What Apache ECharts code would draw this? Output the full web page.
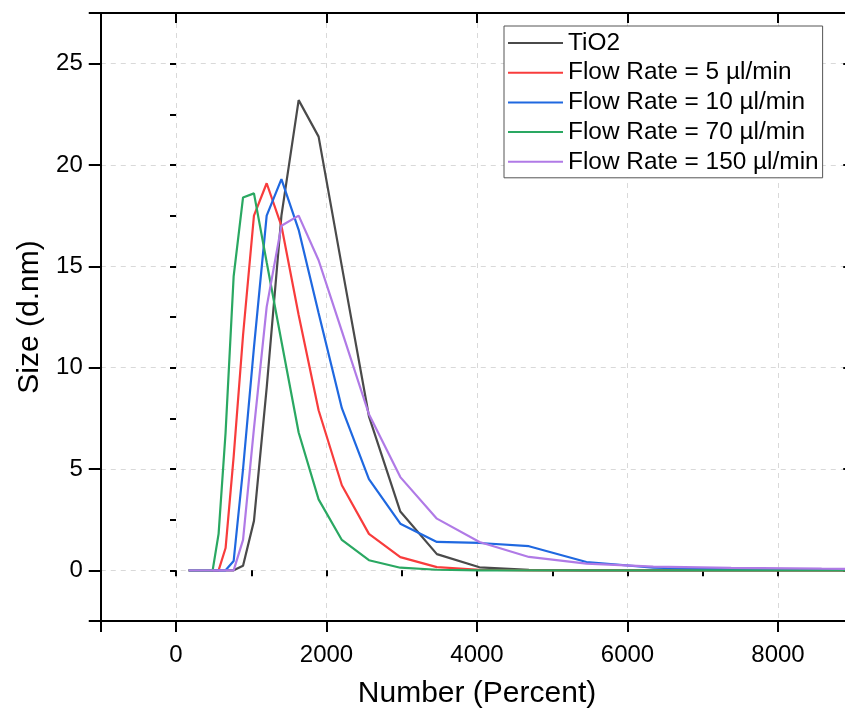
<!DOCTYPE html>
<html>
<head>
<meta charset="utf-8">
<script src="https://cdn.jsdelivr.net/npm/echarts@6/dist/echarts.min.js"></script>
<style>
html,body{margin:0;padding:0;background:#fff;}
#chart{width:845px;height:720px;}
</style>
</head>
<body>
<div id="chart"></div>
<script>
// Size bins (x values, shared by all series)
const xBins = [169,197,229,266,310,360,419,487,566,659,766,891,1036,1205,1401,1630,1895,2204,2564,2981,3467,4033,4690,5454,6343,7377,8580,9978];
const seriesNames = ['TiO2','Flow Rate = 5 µl/min','Flow Rate = 10 µl/min','Flow Rate = 70 µl/min','Flow Rate = 150 µl/min'];
const tio2   = [0,0,0,0,0,0,0,0,0,0,0,0.23,2.44,9.0,17.5,23.2,21.4,15.0,7.6,2.9,0.8,0.15,0.02,0,0,0,0,0];
const flow5  = [0,0,0,0,0,0,0,0,0,1.1,5.6,11.6,17.5,19.1,17.0,12.6,7.9,4.2,1.8,0.65,0.16,0.03,0,0,0,0,0,0];
const flow10 = [0,0,0,0,0,0,0,0,0,0,0.46,5.0,11.0,17.5,19.3,16.8,12.7,8.0,4.5,2.3,1.4,1.35,1.19,0.41,0.13,0.05,0.02,0];
const flow70 = [0,0,0,0,0,0,0,0,1.8,6.8,14.5,18.4,18.6,15.2,11.3,6.8,3.5,1.5,0.5,0.13,0.03,0,0,0,0,0,0,0];
const flow150= [0,0,0,0,0,0,0,0,0,0,0,1.5,7.0,13.0,17.0,17.5,15.3,11.8,7.7,4.6,2.55,1.4,0.66,0.33,0.18,0.12,0.08,0.05];
const xTickLabels = [0,2000,4000,6000,8000];
const yTickLabels = [0,5,10,15,20,25];

const colors = ['#4a4a4a','#f83c3c','#1f68e0','#2aa862','#b07ae6'];
const font = 'Liberation Sans, Arial, sans-serif';
const allVals = [tio2, flow5, flow10, flow70, flow150];

const chart = echarts.init(document.getElementById('chart'), null, {renderer:'canvas'});
const X_MIN=-1000, X_MAX=9000, Y_MIN=-2.5, Y_MAX=27.5;

const option = {
  backgroundColor:'#fff',
  animation:false,
  grid:{left:100.75, top:13, width:752.5, height:608, containLabel:false, outerBoundsMode:'none'},
  legend:{
    orient:'vertical', left:504, top:26, icon:'rect',
    padding:[4,4,3,4], itemGap:3.7, itemWidth:55, itemHeight:2,
    textStyle:{fontSize:24.4, fontFamily:font, color:'#000', lineHeight:26},
    borderColor:'#555', borderWidth:1, backgroundColor:'#fff',
    data: seriesNames
  },
  xAxis:[
    {type:'value', position:'bottom', min:X_MIN, max:X_MAX, splitNumber:5,
     name:'Number (Percent)', nameLocation:'middle', nameGap:58,
     nameTextStyle:{fontSize:30, fontFamily:font, color:'#000'},
     axisLine:{show:true, onZero:false, lineStyle:{color:'#000', width:2}},
     axisTick:{show:true, inside:false, length:11, lineStyle:{color:'#000', width:2}},
     axisLabel:{fontSize:24, fontFamily:font, color:'#000', margin:22,
       formatter:v => xTickLabels.indexOf(v) >= 0 ? String(v) : ''},
     splitLine:{show:true, lineStyle:{color:'#d9d9d9', type:[5,5], width:1}}},
    {type:'value', position:'bottom', min:X_MIN, max:X_MAX, interval:1000,
     axisLine:{show:false}, axisLabel:{show:false}, splitLine:{show:false},
     axisTick:{show:true, inside:false, length:6, lineStyle:{color:'#000', width:2}}},
    {type:'value', position:'top', min:X_MIN, max:X_MAX, splitNumber:5,
     axisLine:{show:true, onZero:false, lineStyle:{color:'#000', width:2}},
     axisLabel:{show:false}, splitLine:{show:false},
     axisTick:{show:true, inside:true, length:10, lineStyle:{color:'#000', width:2}}}
  ],
  yAxis:[
    {type:'value', position:'left', min:Y_MIN, max:Y_MAX, splitNumber:6,
     name:'Size (d.nm)', nameLocation:'middle', nameGap:54,
     nameTextStyle:{fontSize:30, fontFamily:font, color:'#000'},
     axisLine:{show:true, onZero:false, lineStyle:{color:'#000', width:2}},
     axisTick:{show:true, inside:false, length:12, lineStyle:{color:'#000', width:2}},
     axisLabel:{fontSize:24, fontFamily:font, color:'#000', margin:18,
       formatter:v => yTickLabels.indexOf(v) >= 0 ? String(v) : ''},
     splitLine:{show:true, lineStyle:{color:'#d9d9d9', type:[5,5], width:1}}},
    {type:'value', position:'left', min:Y_MIN, max:Y_MAX, interval:2.5,
     axisLine:{show:false}, axisLabel:{show:false}, splitLine:{show:false},
     axisTick:{show:true, inside:false, length:6, lineStyle:{color:'#000', width:2}}},
    {type:'value', position:'right', min:Y_MIN, max:Y_MAX, splitNumber:6,
     axisLine:{show:true, onZero:false, lineStyle:{color:'#000', width:2}},
     axisLabel:{show:false}, splitLine:{show:false},
     axisTick:{show:true, inside:true, length:10, lineStyle:{color:'#000', width:2}}}
  ],
  series: seriesNames.map((name,i) => ({
    name, type:'line', xAxisIndex:0, yAxisIndex:0,
    symbol:'none', smooth:false, clip:true,
    lineStyle:{color:colors[i], width:2.2},
    itemStyle:{color:colors[i]},
    data: xBins.map((x,j) => [x, allVals[i][j]])
  }))
};
chart.setOption(option);
</script>
</body>
</html>
